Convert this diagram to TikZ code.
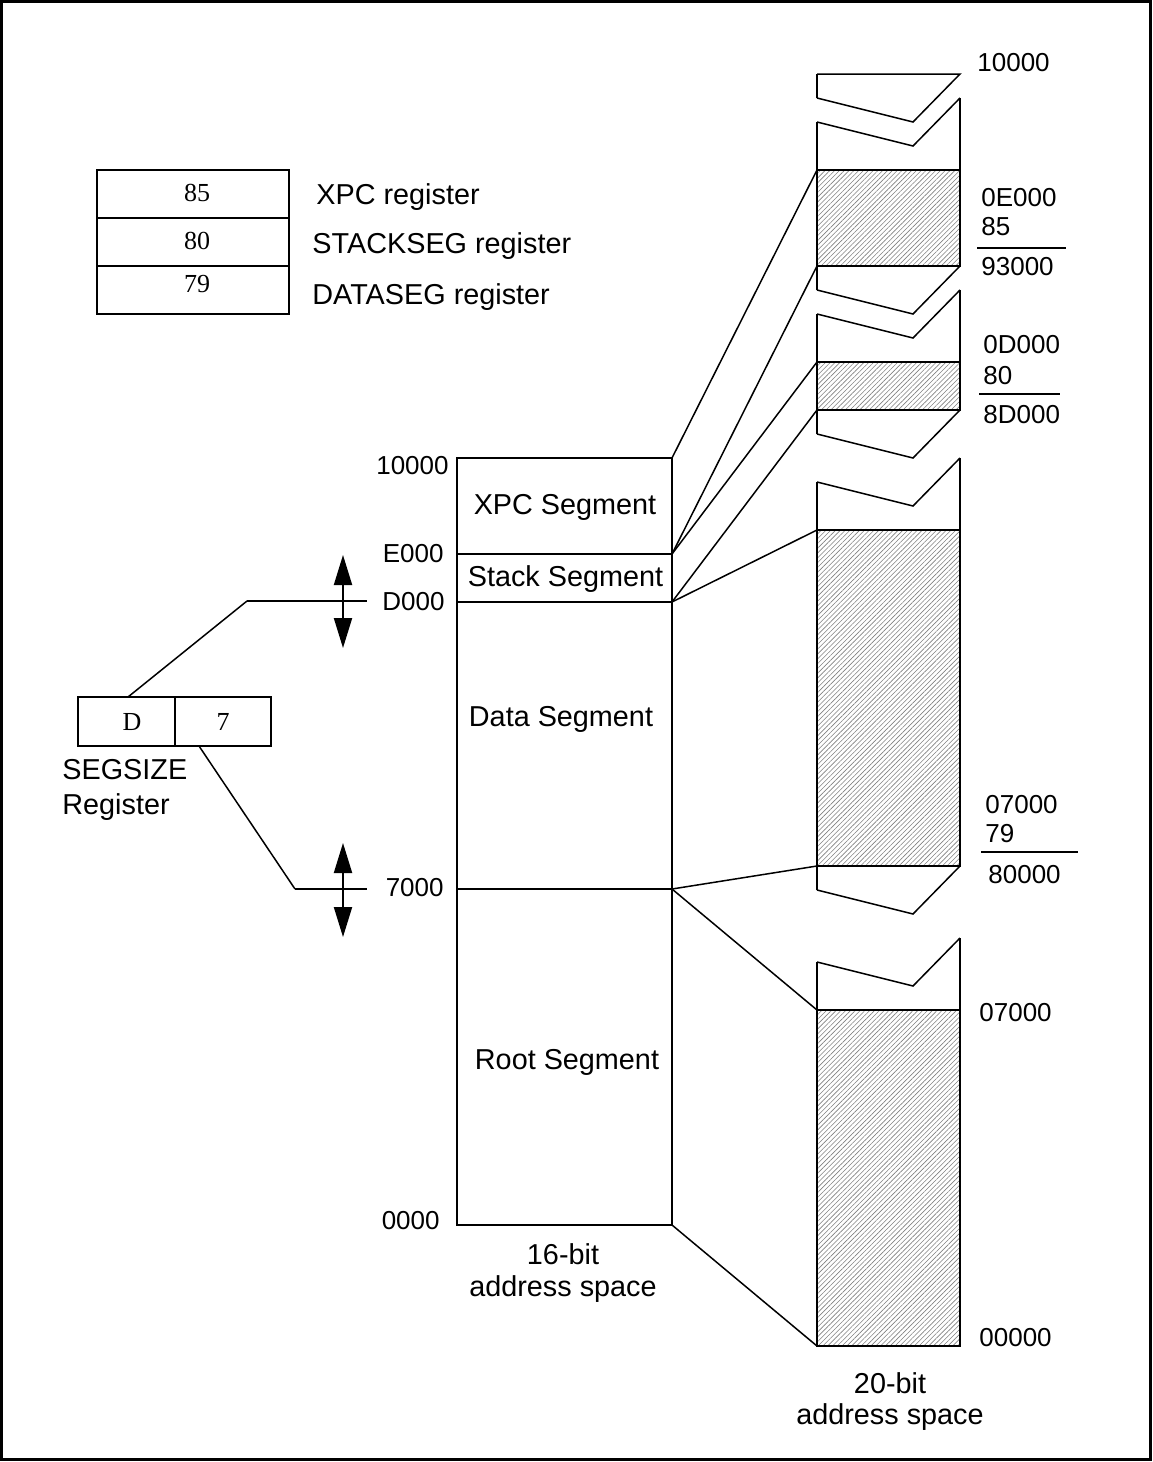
\documentclass[tikz,border=0pt]{standalone}
\usepackage{fontspec}
\setmainfont{Liberation Sans}
\newfontfamily\serifnum{Liberation Serif}
\usetikzlibrary{patterns.meta,arrows.meta}
\begin{document}
\begin{tikzpicture}[x=0.5pt,y=-0.5pt,
  thickline/.style={line width=1.3pt},
  thinline/.style={line width=0.75pt},
  lbl/.style={font=\fontsize{14.4}{16}\selectfont, inner sep=0pt, text depth=0pt},
  num/.style={font=\fontsize{13}{15}\selectfont, inner sep=0pt, text depth=0pt},
  regnum/.style={font=\serifnum\fontsize{13}{15}\selectfont, inner sep=0pt, text depth=0pt},
  hatch/.style={pattern={Lines[angle=45,distance=1.7pt,line width=0.3pt]}, pattern color=black!50},
  dblarrow/.style={line width=1pt, {Triangle[length=15pt,width=9pt]}-{Triangle[length=15pt,width=9pt]}},
]
\useasboundingbox (0,0) rectangle (1152,1462);
\draw[line width=1.6pt] (1.5,1.5) rectangle (1150.5,1459.5);

% ---- register block
\draw[thickline] (97,170) rectangle (289,314);
\draw[thickline] (97,218) -- (289,218);
\draw[thickline] (97,266) -- (289,266);
\node[regnum] (r85) at (197,193) {85};
\node[regnum] (r80) at (197,241) {80};
\node[regnum] (r79) at (197,284) {79};
\node[lbl, anchor=west] (lxpc) at (316,194) {XPC register};
\node[lbl, anchor=west] (lstk) at (312,243) {STACKSEG register};
\node[lbl, anchor=west] (ldat) at (312,294) {DATASEG register};

% ---- 16-bit address space
\draw[thickline] (457,458) rectangle (672,1225);
\draw[thickline] (457,554) -- (672,554);
\draw[thickline] (457,602) -- (672,602);
\draw[thickline] (457,889) -- (672,889);
\coordinate (s16top) at (672,458);
\coordinate (s16e) at (672,554);
\coordinate (s16d) at (672,602);
\coordinate (s16s) at (672,889);
\coordinate (s16b) at (672,1225);

\node[lbl] (xpcseg) at (565,504) {XPC Segment};
\node[lbl] (stkseg) at (565.5,576) {Stack Segment};
\node[lbl] (datseg) at (561,716) {Data Segment};
\node[lbl] (rootseg) at (567,1059) {Root Segment};

\node[num, anchor=east] (a10000) at (449,465) {10000};
\node[num, anchor=east] (aE000) at (444,553) {E000};
\node[num, anchor=east] (aD000) at (445,601) {D000};
\node[num, anchor=east] (a7000) at (444,887) {7000};
\node[num, anchor=east] (a0000) at (440,1220) {0000};

\node[lbl, anchor=base] (b16a) at (563,1264) {16-bit};
\node[lbl, anchor=base] (b16b) at (563,1296) {address space};

% ---- double arrows and SEGSIZE
\coordinate (dTop) at (343,555);
\coordinate (dBot) at (343,648);
\coordinate (sTop) at (343,843);
\coordinate (sBot) at (343,937);
\draw[dblarrow] (dTop) -- (dBot);
\draw[dblarrow] (sTop) -- (sBot);

\draw[thickline] (78,697) rectangle (271,746);
\draw[thickline] (175,697) -- (175,746);
\node[regnum] (segD) at (132,722) {D};
\node[regnum] (seg7) at (223,722) {7};
\coordinate (segDtop) at (128,697);
\coordinate (seg7bot) at (199,746);
\coordinate (kD) at (247,601);
\coordinate (kDend) at (367,601);
\coordinate (k7) at (295,889);
\coordinate (k7end) at (367,889);
\draw[thinline] (segDtop) -- (kD);
\draw[line width=1pt] (kD) -- (kDend);
\draw[thinline] (seg7bot) -- (k7);
\draw[line width=1pt] (k7) -- (k7end);

\node[lbl, anchor=base west] (segsz) at (62,779) {SEGSIZE};
\node[lbl, anchor=base west] (segreg) at (62,814) {Register};

% ---- 20-bit address space
\coordinate (h1tl) at (817,170);
\coordinate (h1bl) at (817,266);
\coordinate (h2tl) at (817,362);
\coordinate (h2bl) at (817,410);
\coordinate (h3tl) at (817,530);
\coordinate (h3bl) at (817,866);
\coordinate (h4tl) at (817,1010);
\coordinate (h4bl) at (817,1346);

\draw[thickline, hatch] (h1tl) rectangle (960,266);
\draw[thickline, hatch] (h2tl) rectangle (960,410);
\draw[thickline, hatch] (h3tl) rectangle (960,866);
\draw[thickline, hatch] (h4tl) rectangle (960,1346);

% top piece
\draw[thinline] (817,98) -- (913,122) -- (960,74) -- (817,74);
\draw[thickline] (817,74) -- (817,98);
% piece 2
\draw[thinline] (817,122) -- (913,146) -- (960,98);
\draw[thickline] (960,98) -- (960,170);
\draw[thickline] (817,122) -- (817,170);
% piece 3
\draw[thickline] (817,266) -- (817,290);
\draw[thinline] (817,290) -- (913,314) -- (960,266);
% piece 4
\draw[thinline] (817,314) -- (913,338) -- (960,290);
\draw[thickline] (960,290) -- (960,362);
\draw[thickline] (817,314) -- (817,362);
% piece 5
\draw[thickline] (817,410) -- (817,434);
\draw[thinline] (817,434) -- (913,458) -- (960,410);
% piece 6
\draw[thinline] (817,482) -- (913,506) -- (960,458);
\draw[thickline] (960,458) -- (960,530);
\draw[thickline] (817,482) -- (817,530);
% piece 7
\draw[thickline] (817,866) -- (817,890);
\draw[thinline] (817,890) -- (913,914) -- (960,866);
% piece 8
\draw[thinline] (817,962) -- (913,986) -- (960,938);
\draw[thickline] (960,938) -- (960,1010);
\draw[thickline] (817,962) -- (817,1010);

% connectors
\draw[thinline] (s16top) -- (h1tl);
\draw[thinline] (s16e) -- (h1bl);
\draw[thinline] (s16e) -- (h2tl);
\draw[thinline] (s16d) -- (h2bl);
\draw[thinline] (s16d) -- (h3tl);
\draw[thinline] (s16s) -- (h3bl);
\draw[thinline] (s16s) -- (h4tl);
\draw[thinline] (s16b) -- (h4bl);

% right labels
\node[num, anchor=west] (t10000) at (977,62) {10000};
\node[num, anchor=west] (t0E000) at (981,197) {0E000};
\node[num, anchor=west] (t85) at (981,226) {85};
\draw[thinline] (977,248) -- (1066,248);
\node[num, anchor=west] (t93000) at (981,266) {93000};
\node[num, anchor=west] (t0D000) at (983,344.5) {0D000};
\node[num, anchor=west] (t80) at (983,375) {80};
\draw[thinline] (979,394) -- (1060,394);
\node[num, anchor=west] (t8D000) at (983,414) {8D000};
\node[num, anchor=west] (t07000a) at (985,804) {07000};
\node[num, anchor=west] (t79) at (985,833) {79};
\draw[thinline] (981,852) -- (1078,852);
\node[num, anchor=west] (t80000) at (988,874) {80000};
\node[num, anchor=west] (t07000b) at (979,1012) {07000};
\node[num, anchor=west] (t00000) at (979,1337) {00000};

\node[lbl, anchor=base] (b20a) at (890,1393) {20-bit};
\node[lbl, anchor=base] (b20b) at (890,1424) {address space};
\end{tikzpicture}
\end{document}
